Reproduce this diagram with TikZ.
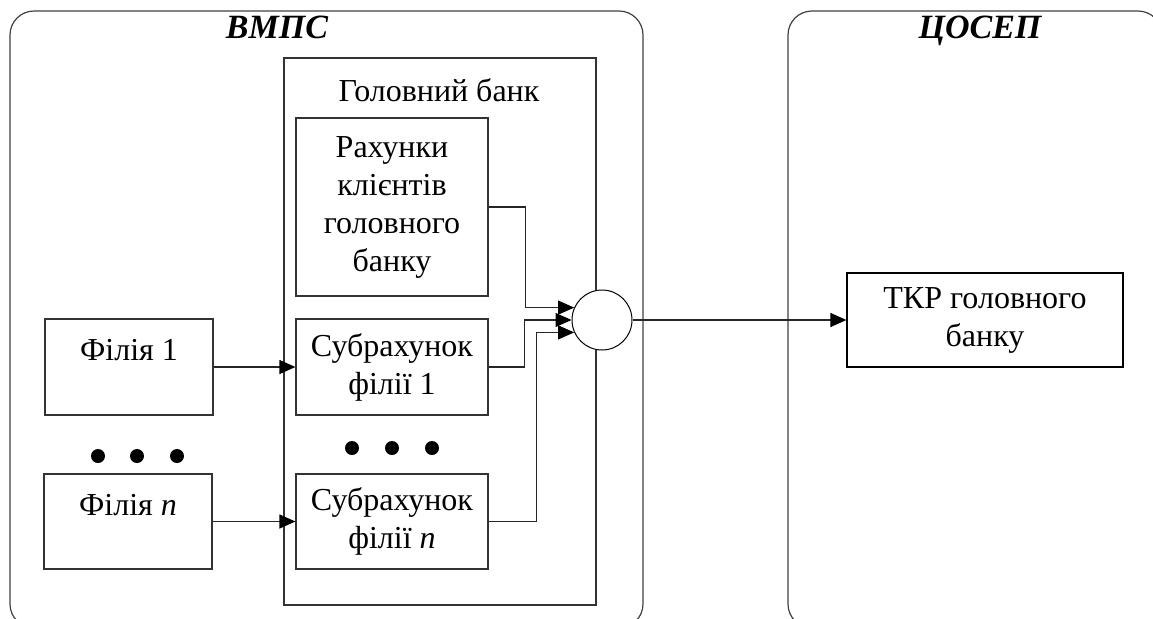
\documentclass[tikz,border=0pt]{standalone}
\usepackage{fontspec}
\setmainfont{Liberation Serif}
\usetikzlibrary{arrows.meta}

\tikzset{
	frame/.style={draw=black!75, line width=0.6pt, rounded corners=12pt},
	box/.style={draw=black!80, line width=0.6pt, inner sep=0pt, align=center,
		font=\fontsize{16}{19}\selectfont},
	arr/.style={draw=black!85, line width=0.6pt, -{Triangle[length=8pt,width=7pt,color=black]}},
	dot/.style={circle, fill=black, inner sep=0pt, minimum size=7pt},
	title/.style={anchor=base, font=\fontsize{17}{20}\selectfont\bfseries\itshape}
}

\begin{document}
\begin{tikzpicture}[x=0.5pt, y=-0.5pt]
		
		\clip (0,0) rectangle (1153,618);
		
		% ВМПС and ЦОСЕП frames
		\draw[frame] (10,11) rectangle (643,628);
		\draw[frame] (788,11) rectangle (1162,628);
		\node[title] (vmps) at (277,38) {ВМПС};
		\node[title] (cosep) at (980,38) {ЦОСЕП};
		
		% Head bank
		\node[box, minimum width=156pt, minimum height=273.5pt] (head) at (440,331.5) {};
		\node[font=\fontsize{16}{19}\selectfont] (headlbl) at (439,90) {Головний банк};
		\node[box, minimum width=96pt, minimum height=89pt] (rah) at (392,207)
			{Рахунки\\клієнтів\\головного\\банку};
		\node[box, minimum width=96pt, minimum height=48pt] (sub1) at (392,367)
			{Субрахунок\\філії 1};
		\node[box, minimum width=96pt, minimum height=47.5pt] (subn) at (392,521.5)
			{Субрахунок\\філії \textit{n}};
		
		% Branches
		\node[box, minimum width=84pt, minimum height=48pt] (fil1) at (129,367)
			{Філія 1\\[-2pt]~};
		\node[box, minimum width=84pt, minimum height=47.5pt] (filn) at (128,521.5)
			{Філія \textit{n}\\[-2pt]~};
		
		% Dots
		\foreach \x in {98,137,177} \node[dot] at (\x,456) {};
		\foreach \x in {352,392,432} \node[dot] at (\x,448) {};
		
		% Junction and settlement account
		\node[draw, line width=0.5pt, fill=white, circle, minimum size=30pt, inner sep=0pt] (junc) at (602,320) {};
		\node[box, draw=black, minimum width=138pt, minimum height=47pt] (tkr) at (985,320)
			{ТКР головного\\банку};
		
		% Arrows
		\draw[arr] (fil1.east) -- (sub1.west);
		\draw[arr] (filn.east) -- (subn.west);
		\draw[arr] (rah.east) -- ++(37,0) |- (junc.156);
		\draw[arr] (sub1.east) -- ++(36,0) |- (junc.west);
		\draw[arr] (subn.east) -- ++(48,0) |- (junc.204);
		\draw[arr] (junc.east) -- (tkr.west);
	\end{tikzpicture}
\end{document}
